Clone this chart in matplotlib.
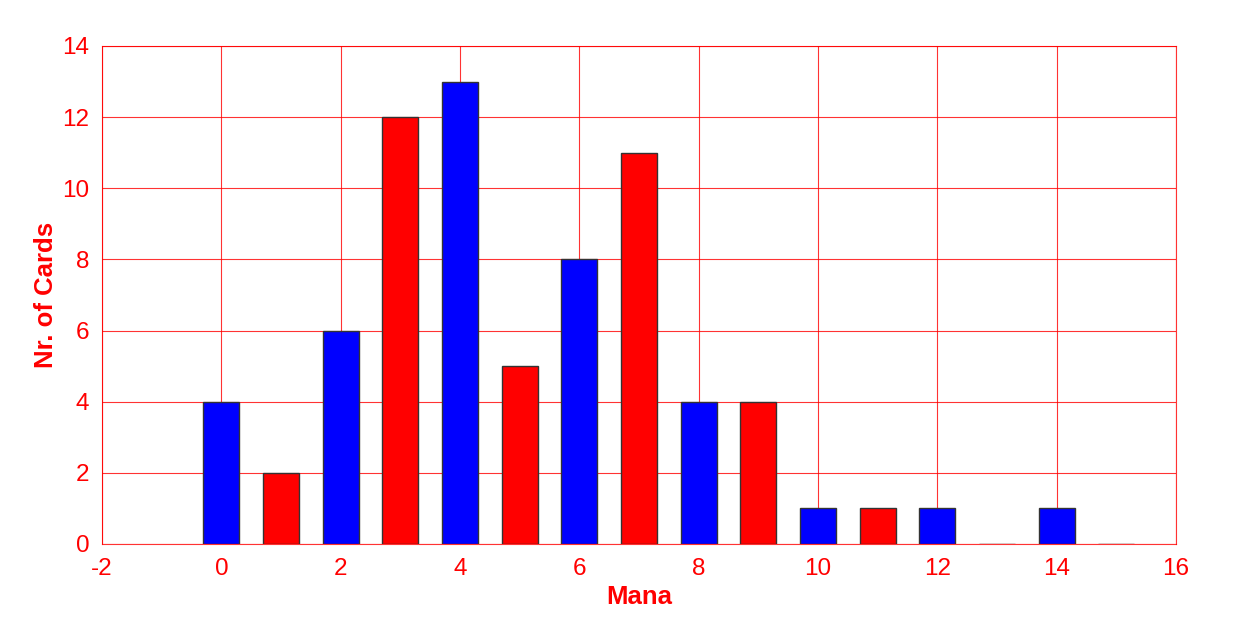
import matplotlib.pyplot as plt

# Mana cost histogram
mana = list(range(16))
counts = [4, 2, 6, 12, 13, 5, 8, 11, 4, 4, 1, 1, 1, 0, 1, 0]
bar_colors = ['blue', 'red'] * 8

plt.rcParams['font.family'] = ['Liberation Sans', 'DejaVu Sans']
plt.rcParams['axes.unicode_minus'] = False

fig = plt.figure(figsize=(12.4, 6.2), dpi=100)
ax = fig.add_axes([102 / 1240, 1 - 544 / 620, (1176 - 102) / 1240, (544 - 46) / 620])

ax.bar(mana, counts, width=0.6, color=bar_colors, edgecolor='#333333', linewidth=1, zorder=2)

ax.set_xlim(-2, 16)
ax.set_ylim(0, 14)
ax.set_xticks(range(-2, 17, 2))
ax.set_yticks(range(0, 15, 2))
ax.grid(True, color='red', linewidth=0.8, alpha=0.8, zorder=0)
ax.set_axisbelow(True)
for s in ax.spines.values():
    s.set_color('red')
    s.set_alpha(0.8)
ax.tick_params(colors='red', labelsize=17.5, length=0)
ax.tick_params(axis='x', pad=10)
ax.tick_params(axis='y', pad=9)

ax.set_xlabel('Mana', color='red', fontsize=18.5, fontweight='bold', labelpad=4)
ax.set_ylabel('Nr. of Cards', color='red', fontsize=18.5, fontweight='bold')
ax.yaxis.set_label_coords(-0.041, 0.5)

fig.savefig('out.png', dpi=100)
